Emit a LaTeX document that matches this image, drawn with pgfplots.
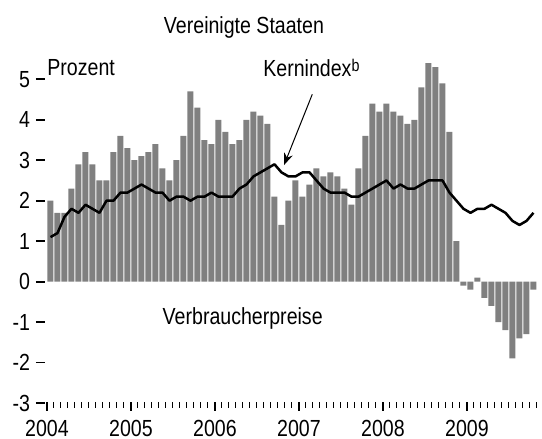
\documentclass[border=0pt]{standalone}
\usepackage{fontspec}
\setmainfont{Liberation Sans}[FakeStretch=0.84]
\usepackage{pgfplots}
\usepackage{pgfplotstable}
\pgfplotsset{compat=1.18}
\usetikzlibrary{arrows.meta}
\definecolor{barcol}{RGB}{128,128,128}

% monthly data Jan 2004 - Oct 2009, x = month index + 0.5
\pgfplotstableread{
x cpi core
0.5 2.0 1.1
1.5 1.7 1.2
2.5 1.7 1.6
3.5 2.3 1.8
4.5 2.9 1.7
5.5 3.2 1.9
6.5 2.9 1.8
7.5 2.5 1.7
8.5 2.5 2.0
9.5 3.2 2.0
10.5 3.6 2.2
11.5 3.3 2.2
12.5 3.0 2.3
13.5 3.1 2.4
14.5 3.2 2.3
15.5 3.4 2.2
16.5 2.8 2.2
17.5 2.5 2.0
18.5 3.0 2.1
19.5 3.6 2.1
20.5 4.7 2.0
21.5 4.3 2.1
22.5 3.5 2.1
23.5 3.4 2.2
24.5 4.0 2.1
25.5 3.7 2.1
26.5 3.4 2.1
27.5 3.5 2.3
28.5 4.0 2.4
29.5 4.2 2.6
30.5 4.1 2.7
31.5 3.9 2.8
32.5 2.1 2.9
33.5 1.4 2.7
34.5 2.0 2.6
35.5 2.5 2.6
36.5 2.1 2.7
37.5 2.4 2.7
38.5 2.8 2.5
39.5 2.6 2.3
40.5 2.7 2.2
41.5 2.6 2.2
42.5 2.3 2.2
43.5 1.9 2.1
44.5 2.8 2.1
45.5 3.6 2.2
46.5 4.4 2.3
47.5 4.2 2.4
48.5 4.4 2.5
49.5 4.2 2.3
50.5 4.1 2.4
51.5 3.9 2.3
52.5 4.0 2.3
53.5 4.8 2.4
54.5 5.4 2.5
55.5 5.3 2.5
56.5 4.9 2.5
57.5 3.7 2.2
58.5 1.0 2.0
59.5 -0.1 1.8
60.5 -0.2 1.7
61.5 0.1 1.8
62.5 -0.4 1.8
63.5 -0.6 1.9
64.5 -1.0 1.8
65.5 -1.2 1.7
66.5 -1.9 1.5
67.5 -1.4 1.4
68.5 -1.3 1.5
69.5 -0.2 1.7
}\usdata

\begin{document}
\begin{tikzpicture}[font=\fontsize{11.65}{14}\selectfont]
\path[use as bounding box] (-23.5pt,-18pt) rectangle (247.5pt,201.5pt);
\begin{axis}[
  at={(0,0)}, anchor=south west,
  width=245pt, height=161.85pt, scale only axis,
  xmin=0, xmax=70, ymin=-3, ymax=5,
  clip=false,
  axis lines*=left,
  axis line style={draw=none},
  xtick={0,12,...,60},
  xticklabels={2004,2005,2006,2007,2008,2009},
  minor xtick={1,...,70},
  ytick={-3,-2,...,5},
  yticklabels={-3,-2,-1,0,1,2,3,4,5},
  tick align=outside,
  major tick length=4.5pt,
  minor tick length=2.8pt,
  major tick style={black, line width=0.9pt},
  minor tick style={black, line width=0.5pt},
  xtick style={yshift=0.5pt},
  ytick style={xshift=-1pt},
  ticklabel style={font=\fontsize{11.65}{14}\selectfont, inner sep=0pt},
  yticklabel style={anchor=east, xshift=-3.75pt},
  xticklabel style={anchor=base, yshift=-12.35pt},
]
\addplot[ybar, bar width=0.857, bar shift=0pt, fill=barcol, draw=none] table[x=x, y=cpi] {\usdata};
\addplot[black, line width=1.25pt, mark=none, line join=round] table[x=x, y=core] {\usdata};

\node[anchor=base, inner sep=0pt] at (axis cs:28.14,6.13) {Vereinigte Staaten};
\node[anchor=base west, inner sep=0pt] at (axis cs:0,5.1) {Prozent};
\node[anchor=base west, inner sep=0pt] at (axis cs:30.86,5.07) {Kernindex\raisebox{2.5pt}{\fontsize{8.5}{10}\selectfont b}};
\node[anchor=base, inner sep=0pt] at (axis cs:27.96,-1.05) {Verbraucherpreise};
\draw[-{Stealth[length=6pt,width=4.5pt]}, line width=0.5pt] (axis cs:37.9,4.63) -- (axis cs:33.86,2.88);
\end{axis}
\end{tikzpicture}
\end{document}
